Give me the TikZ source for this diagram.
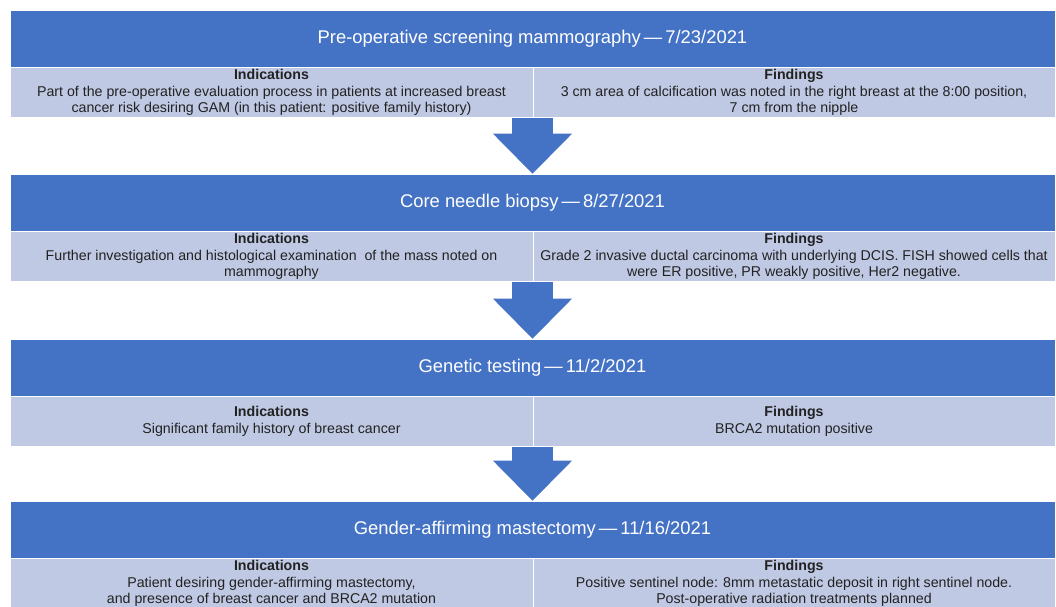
\documentclass[tikz,border=0pt]{standalone}
\usepackage{fontspec}
\setmainfont{Liberation Sans}
\usetikzlibrary{arrows.meta}

\definecolor{hdrblue}{HTML}{4472C4}
\definecolor{celllav}{HTML}{C0C9E4}
\definecolor{celltext}{HTML}{222222}

\tikzset{
  hdr/.style={rectangle, fill=hdrblue, draw=white, line width=0.6pt, minimum width=1045pt, minimum height=57pt, inner sep=0pt, text=white, font=\fontsize{18.4}{21}\selectfont},
  cell/.style={rectangle, fill=celllav, draw=white, line width=0.6pt, minimum height=50pt, inner sep=0pt, align=center, text=celltext, font=\fontsize{14.2}{16.6}\selectfont},
  blockarrow/.style={draw=hdrblue, line width=41pt, -{Triangle[width=79pt, length=40pt, line width=0pt]}}
}

\begin{document}
\begin{tikzpicture}[x=1pt,y=-1pt]
  \useasboundingbox (0,0) rectangle (1056,606);
  \foreach \n/\ytop/\ttl/\ind/\fnd in {
    1/10/{Pre-operative screening mammography\,—\,7/23/2021}/{Part of the pre-operative evaluation process in patients at increased breast\\cancer risk desiring GAM (in this patient: positive family history)}/{3 cm area of calcification was noted in the right breast at the 8:00 position,\\7 cm from the nipple},
    2/174/{Core needle biopsy\,—\,8/27/2021}/{Further investigation and histological examination\ \ of the mass noted on\\mammography}/{Grade 2 invasive ductal carcinoma with underlying DCIS. FISH showed cells that\\were ER positive, PR weakly positive, Her2 negative.},
    3/339/{Genetic testing\,—\,11/2/2021}/{Significant family history of breast cancer}/{BRCA2 mutation positive},
    4/501/{Gender-affirming mastectomy\,—\,11/16/2021}/{Patient desiring gender-affirming mastectomy,\\and presence of breast cancer and BRCA2 mutation}/{Positive sentinel node: 8mm metastatic deposit in right sentinel node.\\Post-operative radiation treatments planned}}
  {
    \node[hdr] (head\n) at (532.5,\ytop+28.5) {\ttl};
    \node[cell, minimum width=523pt, anchor=north west] (ind\n) at (head\n.south west) {\textbf{Indications}\\\ind};
    \node[cell, minimum width=522pt, anchor=north east] (find\n) at (head\n.south east) {\textbf{Findings}\\\fnd};
  }
  % arrows between the steps
  \foreach \a/\b in {1/2,2/3,3/4}
    \draw[blockarrow] (ind\a.south east -| head\b.north) -- (head\b.north);
\end{tikzpicture}
\end{document}
